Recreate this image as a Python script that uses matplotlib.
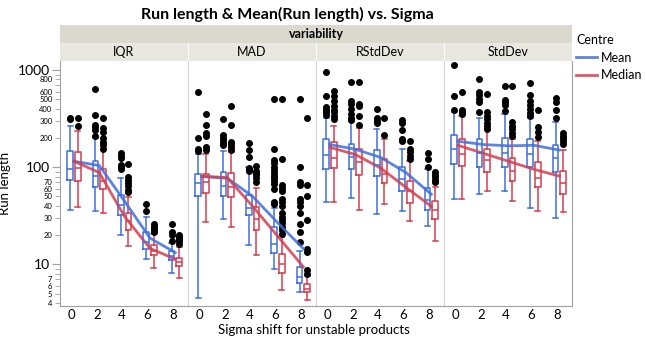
import matplotlib
matplotlib.use('Agg')
import matplotlib.pyplot as plt
import numpy as np
from matplotlib.ticker import FixedLocator, FixedFormatter

plt.rcParams['font.family'] = ['Lato', 'DejaVu Sans']

# data (run length, log scale)
sigma = [0, 2, 4, 6, 8]
panels = ['IQR', 'MAD', 'RStdDev', 'StdDev']

# box stats per sigma: (whisker low, q1, median, q3, whisker high)
iqr_mean_box = [(36, 73, 95, 148, 263), (35, 62, 82, 117, 202), (20, 32, 41, 52, 78),
                (11.4, 14.5, 17, 21.3, 30.7), (8.2, 11.1, 12.2, 13.6, 16.7)]
iqr_median_box = [(39, 72, 99, 143, 235), (34, 59, 72, 96, 153), (15.5, 22.7, 28, 34, 49.5),
                  (9.2, 12.4, 13.8, 15.7, 20.6), (7.3, 9.6, 10.6, 11.6, 15)]
iqr_mean_out = [[320, 310], [640, 344, 271, 258, 242, 207], [139, 130, 124, 106, 101, 96],
                [42, 35], [25.7, 21.6, 20, 17.2]]
iqr_median_out = [[320, 267], [320, 251, 228, 200, 182, 168, 155], [108, 80, 74, 68, 64, 58, 55],
                  [25.7, 24.5, 23.4, 22.3, 21.3], [20, 19, 18.3, 17.2, 16.2]]
iqr_mean_line = [115, 104, 44.5, 18.6, 13.2]
iqr_median_line = [115, 88, 31, 14.6, 11.3]

mad_mean_box = [(4.55, 51, 69, 85, 136), (29, 51, 64, 89, 148), (15.7, 32, 38, 52, 101),
                (8.9, 13.2, 16.2, 24.2, 37.7), (5.2, 6.4, 7.4, 9.4, 13.6)]
mad_median_box = [(27, 54, 71, 86, 136), (24, 49, 63, 87, 143), (12.4, 22.3, 29.3, 39, 61),
                  (5.5, 8.1, 10.1, 12.8, 19.3), (4.3, 5.2, 5.6, 6.2, 7.6)]
mad_mean_out = [[600, 200, 155, 148], [313, 214, 200, 190, 177, 170], [179, 150, 128, 98, 94, 92],
                [505, 153, 118, 110, 101, 94, 88, 82, 77, 72, 67, 60, 44, 42],
                [500, 100, 70, 65, 47, 44, 39.5, 34, 25.7, 21.6, 17]]
mad_median_out = [[355, 271, 224, 211, 160, 150], [430, 271, 180, 172, 160, 152], [103, 92, 88, 84, 78, 71],
                  [505, 120, 65, 61, 57, 47, 43.5, 39.5, 34, 31, 28.8, 26.6, 24.5, 22.3, 20.3],
                  [323, 66, 50, 28.8, 14.5, 13.4, 8.7, 8]]
mad_mean_line = [80, 77, 50, 26.6, 14.5]
mad_median_line = [81, 78, 39.5, 19.3, 9.4]

rsd_mean_box = [(43.5, 96, 135, 194, 318), (48.6, 95, 126, 174, 298), (33, 82, 106, 150, 246),
                (35.4, 57, 75, 101, 155), (24.9, 36.5, 45.6, 60.7, 95)]
rsd_median_box = [(43.5, 98, 124, 180, 263), (36.5, 84, 113, 153, 254), (42, 68, 86, 120, 194),
                  (28, 43, 57, 72, 115), (17.3, 29.3, 36.5, 45, 63)]
rsd_mean_out = [[953, 538, 417, 391, 366, 344], [762, 481, 445, 397, 355, 318, 304],
                [397, 318, 300, 282], [304, 282, 242, 194, 185], [139, 122, 101]]
rsd_median_out = [[611, 538, 481, 430, 391, 366, 339, 313], [762, 445, 424, 339, 271],
                  [318, 217], [185, 155, 143, 130, 120], [89, 84, 79.5, 74.6, 70]]
rsd_mean_line = [171, 153, 126, 88, 52.6]
rsd_median_line = [160, 135, 98, 62, 39.5]

sd_mean_box = [(47, 109, 155, 217, 372), (53.5, 101, 139, 197, 323), (57, 101, 141, 200, 350),
               (38.3, 101, 137, 194, 318), (30.2, 90, 124, 171, 289)]
sd_median_box = [(47, 103, 137, 197, 339), (57, 90, 118, 153, 239), (45, 72, 92, 124, 197),
                 (35.4, 62, 78, 113, 188), (34.8, 53.5, 69, 92, 151)]
sd_mean_out = [[1135, 538, 391], [800, 591, 549, 505, 466, 366], [693, 496, 466, 439, 378],
               [738, 555, 481, 439, 397, 362, 335], [513, 474, 391, 323]]
sd_median_out = [[600, 384, 366, 355], [573, 366, 339, 313, 286, 267, 249], [693, 289, 267, 249, 227, 211],
                 [385, 258, 231, 206], [227, 211, 198, 184, 172]]
sd_mean_line = [185, 171, 166, 168, 150]
sd_median_line = [168, 139, 115, 95, 81]

mean_boxes = [iqr_mean_box, mad_mean_box, rsd_mean_box, sd_mean_box]
median_boxes = [iqr_median_box, mad_median_box, rsd_median_box, sd_median_box]
mean_outs = [iqr_mean_out, mad_mean_out, rsd_mean_out, sd_mean_out]
median_outs = [iqr_median_out, mad_median_out, rsd_median_out, sd_median_out]
mean_lines = [iqr_mean_line, mad_mean_line, rsd_mean_line, sd_mean_line]
median_lines = [iqr_median_line, mad_median_line, rsd_median_line, sd_median_line]

BLUE = '#3F6FDE'
RED = '#D63E50'
W, H = 645, 339


def rect(x0, y0, x1, y1):
    # pixel box -> figure fraction
    return [x0 / W, 1 - y1 / H, (x1 - x0) / W, (y1 - y0) / H]


def to_stats(boxes, outs):
    return [dict(whislo=b[0], q1=b[1], med=b[2], q3=b[3], whishi=b[4], fliers=o)
            for b, o in zip(boxes, outs)]


fig = plt.figure(figsize=(6.45, 3.39), dpi=100)

fig.text(287 / W, 1 - 14 / H, 'Run length & Mean(Run length) vs. Sigma',
         ha='center', va='center', fontsize=11.5, fontweight='bold')

# header band
hax = fig.add_axes(rect(60, 25, 572, 42.5))
hax.set_facecolor('#DBD9CD')
hax.set_xticks([]); hax.set_yticks([])
for s in hax.spines.values():
    s.set_visible(False)
hax.text(0.5, 0.5, 'variability', ha='center', va='center', fontsize=9,
         fontweight='bold', transform=hax.transAxes)

x0 = 60
pw = 128
axes = []
for i, name in enumerate(panels):
    sax = fig.add_axes(rect(x0 + pw * i, 42.5, x0 + pw * (i + 1), 61))
    sax.set_facecolor('#E9E8E0')
    sax.set_xticks([]); sax.set_yticks([])
    for s in sax.spines.values():
        s.set_visible(False)
    if i > 0:
        sax.axvline(0, color='white', lw=1.5)
    sax.text(0.5, 0.5, name, ha='center', va='center', fontsize=9, transform=sax.transAxes)

    ax = fig.add_axes(rect(x0 + pw * i, 61, x0 + pw * (i + 1), 306),
                      sharey=axes[0] if axes else None)
    axes.append(ax)
    pos = np.array(sigma, dtype=float)
    for boxes, outs, col, off in [(mean_boxes[i], mean_outs[i], BLUE, -0.1),
                                  (median_boxes[i], median_outs[i], RED, 0.5)]:
        lp = dict(color=col, lw=1.1)
        ax.bxp(to_stats(boxes, outs), positions=pos + off, widths=0.46, capwidths=0.4,
               boxprops=lp, whiskerprops=lp, capprops=lp, medianprops=lp,
               flierprops=dict(marker='o', mfc='black', mec='black', ms=4),
               manage_ticks=False)
    lm, = ax.plot(pos + 0.2, mean_lines[i], color=BLUE, lw=2, alpha=0.85, label='Mean')
    ld, = ax.plot(pos + 0.2, median_lines[i], color=RED, lw=2, alpha=0.85, label='Median')

    ax.set_yscale('log')
    ax.set_ylim(3.72, 1240)
    ax.set_xlim(-0.9, 9.2)
    ax.set_xticks(sigma)
    ax.set_xticklabels([str(s) for s in sigma], fontsize=9.5)
    ax.tick_params(axis='x', length=0, pad=2)
    ax.spines['top'].set_visible(False)
    ax.spines['bottom'].set_color('#A0A0A0')
    ax.spines['left'].set_color('#A0A0A0' if i == 0 else '#D4D4D4')
    ax.spines['right'].set_color('#A0A0A0' if i == 3 else '#D4D4D4')
    ax.spines['right'].set_visible(i == 3)
    if i > 0:
        ax.tick_params(axis='y', which='both', left=False, labelleft=False)

ax0 = axes[0]
major = [10, 100, 1000]
minor = [4, 5, 6, 7, 8, 9, 20, 30, 40, 50, 60, 70, 80, 90,
         200, 300, 400, 500, 600, 700, 800, 900]
minor_lab = ['4', '5', '6', '7', '', '', '20', '30', '40', '50', '60', '70', '', '',
             '200', '300', '400', '500', '600', '', '800', '']
ax0.yaxis.set_major_locator(FixedLocator(major))
ax0.yaxis.set_major_formatter(FixedFormatter(['10', '100', '1000']))
ax0.yaxis.set_minor_locator(FixedLocator(minor))
ax0.yaxis.set_minor_formatter(FixedFormatter(minor_lab))
ax0.tick_params(axis='y', which='major', labelsize=10, length=6, color='#A0A0A0', pad=1.5)
ax0.tick_params(axis='y', which='minor', labelsize=5.5, length=3.5, color='#A0A0A0', pad=2)
ax0.set_ylabel('Run length', fontsize=9.5, labelpad=5)

fig.text(314 / W, 1 - 330 / H, 'Sigma shift for unstable products',
         ha='center', va='center', fontsize=9.5)

fig.legend(handles=[lm, ld], labels=['Mean', 'Median'], title='Centre',
           loc='upper left', bbox_to_anchor=(576 / W, 1 - 34 / H), frameon=False,
           fontsize=9, title_fontsize=9, handlelength=1.7, handletextpad=0.25,
           labelspacing=0.45, alignment='left', borderaxespad=0, borderpad=0)

fig.savefig('out.png', dpi=100)
